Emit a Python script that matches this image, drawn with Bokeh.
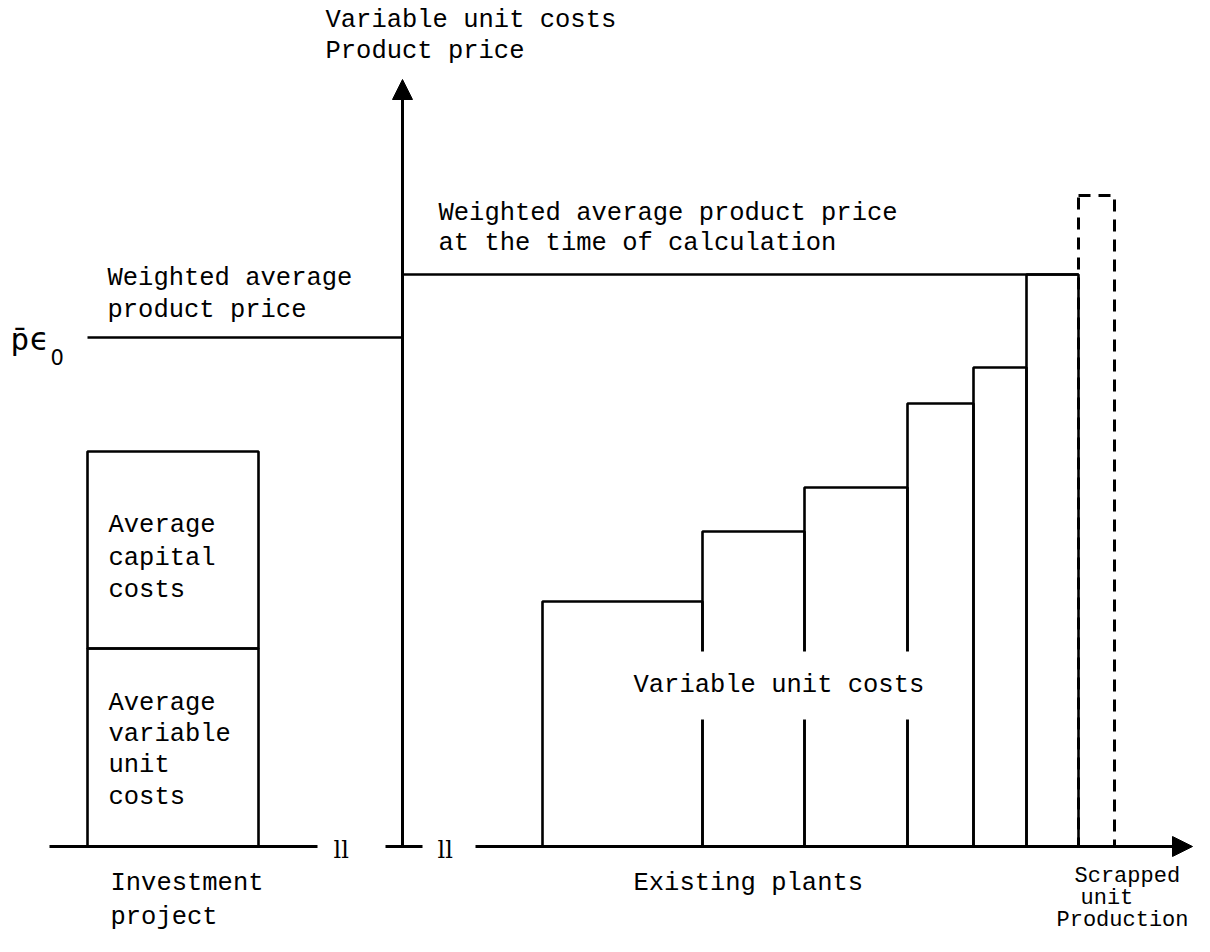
from bokeh.plotting import figure
from bokeh.models import Range1d, ColumnDataSource, Arrow, NormalHead
from bokeh.core.properties import value
from bokeh.embed import file_html
from bokeh.resources import INLINE

# ---- data (diagram units: production along x, cost/price along y) ----
plant_edges = [542, 702, 804, 907, 973, 1026, 1078]   # capacity boundaries of existing plants
plant_costs = [245, 315, 359, 443, 479, 572]          # variable unit costs of each plant
price_now = 572            # weighted average product price at the time of calculation
price_p0 = 509             # weighted average product price (p̄ε0)
inv_left, inv_right = 87, 258                         # investment project
inv_variable_cost = 198    # average variable unit costs
inv_capital_cost = 197     # average capital costs (stacked on top)
scrapped_edges = [1078, 1114]
scrapped_cost = 651

FONT = value("Liberation Mono")
FS = "25.5px"

p = figure(width=1194, height=936, output_backend="svg", toolbar_location=None,
           x_range=Range1d(0, 1194), y_range=Range1d(-90, 846),
           x_axis_location=None, y_axis_location=None, min_border=0)
p.outline_line_color = None
p.xgrid.visible = False
p.ygrid.visible = False
p.background_fill_color = "white"
p.border_fill_color = "white"

LW = 2.6

# existing plants as step boxes
src = ColumnDataSource(dict(left=plant_edges[:-1], right=plant_edges[1:],
                            top=plant_costs, bottom=[0] * len(plant_costs)))
p.quad(left="left", right="right", top="top", bottom="bottom", source=src,
       fill_color=None, line_color="black", line_width=LW)

# scrapped unit (dashed)
p.quad(left=[scrapped_edges[0]], right=[scrapped_edges[1]], bottom=[0], top=[scrapped_cost],
       fill_color=None, line_color="black", line_width=3, line_dash="12 8")

# investment project stacked box
p.quad(left=[inv_left, inv_left], right=[inv_right, inv_right],
       bottom=[0, inv_variable_cost], top=[inv_variable_cost, inv_variable_cost + inv_capital_cost],
       fill_color=None, line_color="black", line_width=LW)

# axes position
yaxis_x = 402
yaxis_top = 767
xaxis_start, xaxis_end = 475, 1192

# price lines
p.segment(x0=[yaxis_x], y0=[price_now], x1=[plant_edges[-1]], y1=[price_now],
          line_color="black", line_width=LW)
p.segment(x0=[inv_left], y0=[price_p0], x1=[yaxis_x], y1=[price_p0],
          line_color="black", line_width=LW)

# baseline pieces (broken axis)
p.segment(x0=[49, 385], y0=[0, 0], x1=[317, 422], y1=[0, 0],
          line_color="black", line_width=3)

# axis arrows
p.add_layout(Arrow(end=NormalHead(size=20, fill_color="black", line_color="black", line_width=1),
                   x_start=xaxis_start, y_start=0, x_end=xaxis_end, y_end=0,
                   line_color="black", line_width=3))
p.add_layout(Arrow(end=NormalHead(size=20, fill_color="black", line_color="black", line_width=1),
                   x_start=yaxis_x, y_start=0, x_end=yaxis_x, y_end=yaxis_top,
                   line_color="black", line_width=3))

# white gap behind the "Variable unit costs" label
lab_x, lab_y = 633, 161
p.quad(left=[lab_x - 12], right=[lab_x + 300], bottom=[lab_y - 34], top=[lab_y + 34],
       fill_color="white", line_color=None)

texts = [
    (325, 826, "Variable unit costs"),
    (325, 795, "Product price"),
    (438, 633, "Weighted average product price"),
    (438, 603, "at the time of calculation"),
    (107, 568, "Weighted average"),
    (107, 536, "product price"),
    (108, 321, "Average"),
    (108, 288, "capital"),
    (108, 256, "costs"),
    (108, 143, "Average"),
    (108, 112, "variable"),
    (108, 81, "unit"),
    (108, 49, "costs"),
    (lab_x, lab_y, "Variable unit costs"),
    (110, -37, "Investment"),
    (110, -71, "project"),
    (633, -37, "Existing plants"),
]
p.text(x=[t[0] for t in texts], y=[t[1] for t in texts], text=[t[2] for t in texts],
       text_font=FONT, text_font_size=FS, text_baseline="middle", text_align="left",
       text_color="black")

# labels at the right edge, kept inside the canvas
p.text(x=[1074, 1080, 1056], y=[-30, -52, -74], text=["Scrapped", "unit", "Production"],
       text_font=FONT, text_font_size="22px", text_baseline="middle", text_align="left",
       text_color="black")

# p-bar epsilon with subscript 0
p.text(x=[10], y=[508], text=["p\u0304\u03f5"], text_font=value("DejaVu Sans Mono"),
       text_font_size="31px", text_baseline="middle", text_align="left", text_color="black")
p.text(x=[50], y=[490], text=["0"], text_font=value("DejaVu Sans"), text_font_size="21px",
       text_baseline="middle", text_align="left", text_color="black")

# axis break marks
p.text(x=[333, 437], y=[-3, -3], text=["ll", "ll"], text_font=value("DejaVu Serif"),
       text_font_size="24px", text_baseline="middle",
       text_align="left", text_color="black")

open("out.html", "w").write(file_html(p, INLINE))
